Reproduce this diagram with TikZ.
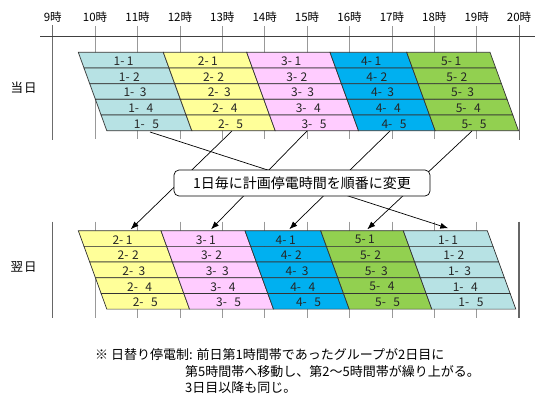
\documentclass[tikz,border=0pt]{standalone}
\usepackage{fontspec}
\setmainfont{Noto Sans CJK JP}
\usetikzlibrary{arrows.meta}
\definecolor{gA}{RGB}{183,226,228}
\definecolor{gB}{RGB}{255,255,153}
\definecolor{gC}{RGB}{255,204,255}
\definecolor{gD}{RGB}{0,176,240}
\definecolor{gE}{RGB}{146,208,80}
\tikzset{
  tickline/.style={draw=gray!80, line width=0.8pt},
  mainline/.style={draw=black!60, line width=1.3pt},
  axisline/.style={draw=black!75, line width=1.2pt},
  cell/.style={draw=black!80, line width=0.7pt},
  rowlbl/.style={font=\fontsize{12}{12}\selectfont, text=black!85, inner sep=0pt},
  hourlbl/.style={font=\fontsize{11.5}{12}\selectfont, inner sep=0pt},
  daylbl/.style={font=\fontsize{12.5}{13}\selectfont, inner sep=0pt},
  callout/.style={draw=black, line width=0.7pt, fill=white, rounded corners=5pt,
    minimum width=256pt, minimum height=26pt, inner sep=0pt, font=\fontsize{14}{14}\selectfont},
  link/.style={draw=black, line width=0.7pt, -{Latex[length=8pt,width=6pt]}},
  note/.style={font=\fontsize{13}{13}\selectfont, inner sep=0pt, anchor=west}
}
% #1 colour, #2 name prefix, #3 group label, #4 left top x, #5 right top x, #6 top y
\newcommand\grp[6]{%
  \foreach \r/\sp in {0/2.5pt,1/3.5pt,2/5.5pt,3/7.5pt,4/7.5pt}{%
    \pgfmathsetmacro\ya{#6+\r*15.68}%
    \pgfmathsetmacro\yb{\ya+15.68}%
    \pgfmathsetmacro\la{#4+\r*5.7}%
    \pgfmathsetmacro\lb{\la+5.7}%
    \pgfmathsetmacro\ra{#5+\r*5.7}%
    \pgfmathsetmacro\rb{\ra+5.7}%
    \pgfmathsetmacro\cx{(\la+\ra+\lb+\rb)/4}%
    \pgfmathsetmacro\cy{(\ya+\yb)/2+1.2}%
    \pgfmathtruncatemacro\rn{\r+1}%
    \filldraw[cell, fill=#1] (\la,\ya) -- (\ra,\ya) -- (\rb,\yb) -- (\lb,\yb) -- cycle;
    \node[rowlbl] (#2\rn) at (\cx,\cy) {#3-\hspace{\sp}\rn};
  }}
\begin{document}
\begin{tikzpicture}[x=1pt,y=-1pt]
\useasboundingbox[fill=white] (0,0) rectangle (553,408);

% hour labels and tick lines
\foreach \h in {9,...,20}{
  \pgfmathsetmacro\xx{52.7+(\h-9)*42.4}
  \node[hourlbl] (h\h) at (\xx,17) {\h 時};
}
\foreach \h in {10,...,19}{
  \pgfmathsetmacro\xx{52.7+(\h-9)*42.4}
  \draw[tickline] (\xx,26) -- (\xx,139);
  \draw[tickline] (\xx,221.5) -- (\xx,318);
}
\foreach \h in {9,20}{
  \pgfmathsetmacro\xx{52.7+(\h-9)*42.4}
  \draw[tickline, line width=1pt, draw=gray!85!black] (\xx,25) -- (\xx,140);
  \draw[mainline] (\xx,221.5) -- (\xx,318);
}
\draw[axisline] (40,36.7) -- (535,36.7);

% day labels
\node[daylbl] (today) at (23.5,88) {当\hspace{1pt}日};
\node[daylbl] (nextday) at (23.5,267) {翌\hspace{1pt}日};

% upper chart (today)
\grp{gA}{ua}{1}{78.3}{163.3}{52.3}
\grp{gB}{ub}{2}{163.3}{246.7}{52.3}
\grp{gC}{uc}{3}{246.7}{330}{52.3}
\grp{gD}{ud}{4}{330}{406.7}{52.3}
\grp{gE}{ue}{5}{406.7}{490}{52.3}

% lower chart (next day)
\grp{gB}{lb}{2}{78.3}{161}{230.7}
\grp{gC}{lc}{3}{161}{245}{230.7}
\grp{gD}{ld}{4}{245}{320.7}{230.7}
\grp{gE}{le}{5}{320.7}{403.3}{230.7}
\grp{gA}{la}{1}{403.3}{487.3}{230.7}

% connectors
\coordinate (s1) at (150,132);   \coordinate (t1) at (448.3,228.3);
\coordinate (s2) at (232,131);   \coordinate (t2) at (130.7,229.3);
\coordinate (s3) at (307,131);   \coordinate (t3) at (211,229.3);
\coordinate (s4) at (390,131);   \coordinate (t4) at (289.3,229.3);
\coordinate (s5) at (472,131);   \coordinate (t5) at (367.3,229.3);
\foreach \i in {1,...,5}{\draw[link] (s\i) -- (t\i);}

% callout
\node[callout] (msg) at (302,183) {1日毎に計画停電時間を順番に変更};

% footnote
\node[note] (n1) at (95,355) {※ 日替り停電制:\hspace{4pt}前日第1時間帯であったグループが2日目に};
\node[note] (n2) at (185,372) {第5時間帯へ移動し、第2〜5時間帯が繰り上がる。};
\node[note] (n3) at (185,388) {3日目以降も同じ。};
\end{tikzpicture}
\end{document}
